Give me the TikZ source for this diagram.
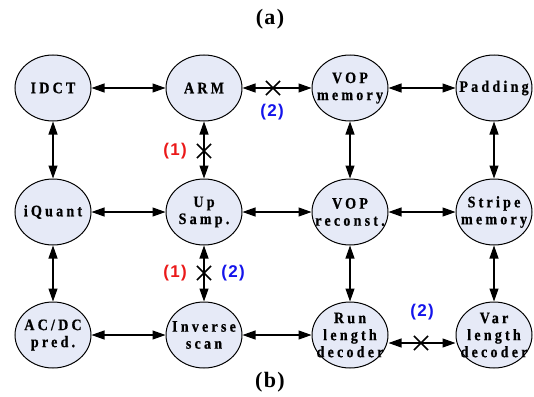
\documentclass[tikz,border=0pt]{standalone}
\usepackage{fontspec}
\setmainfont{Liberation Serif}
\newfontfamily\nodefont[LetterSpace=20,FakeStretch=0.88,FakeBold=0.6]{Liberation Serif}
\newfontfamily\labfont[LetterSpace=8]{Liberation Sans}
\newfontfamily\titlefont[LetterSpace=6]{Liberation Serif}
\usetikzlibrary{shapes.geometric,shapes.misc,arrows.meta}
\definecolor{bubblefill}{RGB}{230,234,247}
\definecolor{labred}{RGB}{235,25,25}
\definecolor{labblue}{RGB}{20,20,235}
\begin{document}
\begin{tikzpicture}[x=1pt,y=-1pt,
  bubble/.style={ellipse, draw, line width=1pt, fill=bubblefill, minimum width=76pt, minimum height=66pt, inner sep=0pt},
  ntext/.style={align=center, font=\nodefont\bfseries\fontsize{16}{17}\selectfont, inner sep=0pt},
  link/.style={line width=1.1pt, {Triangle[length=13pt,width=9pt]}-{Triangle[length=13pt,width=9pt]}},
  xmark/.style={cross out, draw, line width=1.6pt, minimum size=12.5pt, inner sep=0pt},
  redlab/.style={text=labred, font=\labfont\bfseries\fontsize{17}{18}\selectfont, inner sep=0pt},
  bluelab/.style={text=labblue, font=\labfont\bfseries\fontsize{17}{18}\selectfont, inner sep=0pt},
  title/.style={font=\titlefont\bfseries\fontsize{22}{24}\selectfont, inner sep=0pt}]
\useasboundingbox (0,0) rectangle (534,396);

% titles
\node[title] (ta) at (270,19) {(a)};
\node[title] (tb) at (270,382) {(b)};

% ellipses
\node[bubble] (idct) at (53,88) {};
\node[bubble] (arm)  at (204,88) {};
\node[bubble] (vopm) at (350,88) {};
\node[bubble] (pad)  at (494,88) {};
\node[bubble] (iq)   at (53,212) {};
\node[bubble] (ups)  at (204,212) {};
\node[bubble] (vopr) at (350,212) {};
\node[bubble] (str)  at (494,212) {};
\node[bubble] (acdc) at (53,335) {};
\node[bubble] (inv)  at (204,335) {};
\node[bubble] (run)  at (350,335) {};
\node[bubble] (var)  at (494,335) {};

% texts
\node[ntext] (idctT) at (idct) {IDCT};
\node[ntext] (armT)  at (arm) {ARM};
\node[ntext] (vopmT) at (vopm) {VOP\\memory};
\node[ntext] (padT)  at (pad) {Padding};
\node[ntext] (iqT)   at (iq) {iQuant};
\node[ntext] (upsT)  at (ups) {Up\\Samp.};
\node[ntext] (voprT) at (vopr) {VOP\\reconst.};
\node[ntext] (strT)  at (str) {Stripe\\memory};
\node[ntext] (acdcT) at (acdc) {AC/DC\\pred.};
\node[ntext] (invT)  at (inv) {Inverse\\scan};
\node[ntext] (runT)  at (run) {Run\\length\\decoder};
\node[ntext] (varT)  at (var) {Var\\length\\decoder};

% horizontal links
\draw[link] (idct) -- (arm);
\draw[link] (arm) -- (vopm);
\draw[link] (vopm) -- (pad);
\draw[link] (iq) -- (ups);
\draw[link] (ups) -- (vopr);
\draw[link] (vopr) -- (str);
\draw[link] (acdc) -- (inv);
\draw[link] (inv) -- (run);
\draw[link] ([yshift=-8pt]run.east) -- ([yshift=-8pt]var.west);

% vertical links
\draw[link] (idct) -- (iq);
\draw[link] (iq) -- (acdc);
\draw[link] (arm) -- (ups);
\draw[link] (ups) -- (inv);
\draw[link] (vopm) -- (vopr);
\draw[link] (vopr) -- (run);
\draw[link] (pad) -- (str);
\draw[link] (str) -- (var);

% cut marks
\node[xmark] (x1) at (273,88) {};
\node[xmark] (x2) at (204,151) {};
\node[xmark] (x3) at (204,273) {};
\node[xmark] (x4) at (421,343) {};

% labels
\node[bluelab] (l1) at (272,112) {(2)};
\node[redlab]  (l2) at (175,151) {(1)};
\node[redlab]  (l3) at (175,273) {(1)};
\node[bluelab] (l4) at (233,273) {(2)};
\node[bluelab] (l5) at (422,312) {(2)};
\end{tikzpicture}
\end{document}
